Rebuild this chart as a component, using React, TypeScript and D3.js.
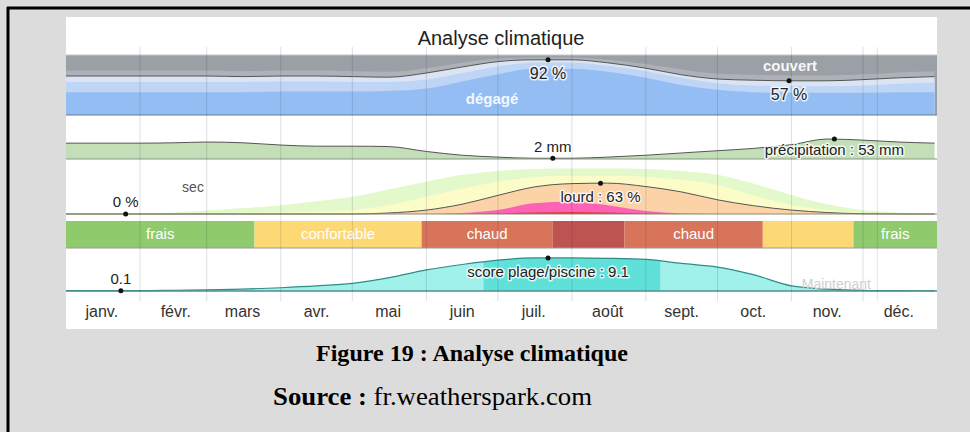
import React from "react";
import * as d3 from "d3";

const W = 970;
const H = 432;

// points bimensuels de l'année
const sampleDates = [
  "2023-01-01", "2023-01-16", "2023-02-01", "2023-02-16", "2023-03-01", "2023-03-16",
  "2023-04-01", "2023-04-16", "2023-05-01", "2023-05-16", "2023-06-01", "2023-06-16",
  "2023-07-01", "2023-07-16", "2023-08-01", "2023-08-16", "2023-09-01", "2023-09-16",
  "2023-10-01", "2023-10-16", "2023-11-01", "2023-11-16", "2023-12-01", "2023-12-16",
  "2023-12-31",
];

const monthLabels = ["janv.", "févr.", "mars", "avr.", "mai", "juin", "juil.", "août", "sept.", "oct.", "nov.", "déc."];

// couverture nuageuse : % cumulés depuis le bas (dégagé -> couvert)
const cloudClear = [38, 38, 38, 38, 38, 38, 39, 39, 39, 40, 44, 56, 68, 77, 77, 72, 62, 50, 42, 38, 37, 37, 37, 38, 38];
const cloudMostlyClear = [55, 55, 55, 55, 55, 55, 56, 56, 55, 55, 59, 70, 81, 87, 87, 82, 73, 62, 53, 49, 48, 48, 49, 52, 54];
const cloudPartly = [65, 65, 65, 65, 65, 64, 65, 65, 64, 63, 70, 80, 89, 92, 92, 87, 78, 67, 60, 58, 57, 57, 59, 62, 64];
const cloudMostlyCloudy = [74, 74, 74, 74, 74, 73, 74, 74, 73, 72, 78, 87, 94, 96, 96, 92, 85, 76, 69, 67, 66, 66, 68, 71, 73];

// précipitations (mm)
const precipMm = [42, 42, 42, 43, 45, 43, 37, 34, 34, 33, 20, 10, 5, 2, 2, 5, 10, 16, 22, 28, 38, 53, 50, 45, 42];

// humidité : % cumulés (misérable -> humide)
const muggyMiserable = [0, 0, 0, 0, 0, 0, 0, 0, 0, 0, 0, 0, 1, 3, 4, 3, 1, 0, 0, 0, 0, 0, 0, 0, 0];
const muggyOppressive = [0, 0, 0, 0, 0, 0, 0, 0, 0, 0, 0, 2, 8, 22, 25, 18, 6, 1, 0, 0, 0, 0, 0, 0, 0];
const muggyHeavy = [0, 0, 0, 0, 0, 0, 0, 0, 0, 2, 8, 20, 38, 55, 62, 63, 56, 45, 29, 17, 8, 3, 0.5, 0, 0];
const muggyHumid = [0, 0, 0, 0.5, 1, 2, 3, 5, 8, 18, 35, 52, 66, 75, 78, 78, 76, 70, 59, 38, 18, 8, 2, 0.5, 0];
const muggyComfortable = [0, 0.5, 1, 3, 7, 12, 18, 26, 35, 50, 66, 80, 88, 92, 93, 93, 92, 88, 80, 62, 39, 20, 8, 3, 1];

// score plage/piscine
const beachScore = [0.1, 0.1, 0.1, 0.2, 0.3, 0.5, 0.9, 1.4, 2.1, 3.6, 5.8, 7.3, 8.5, 9.1, 9.1, 9.0, 8.7, 7.6, 6.6, 4.5, 1.4, 0.5, 0.15, 0.1, 0.05];
const beachBestStart = "2023-06-25";
const beachBestEnd = "2023-09-07";

// bande de température
const tempBandStart = ["2023-01-01", "2023-03-21", "2023-05-30", "2023-07-24", "2023-08-23", "2023-10-20", "2023-11-27"];
const tempBandKind = ["frais", "confortable", "chaud", "tres_chaud", "chaud", "confortable", "frais"];
const tempBandLabel = ["frais", "confortable", "chaud", "", "chaud", "", "frais"];

// repères
const cloudMarks = [{ date: "2023-07-22", value: 92, label: "92 %" }, { date: "2023-10-31", value: 57, label: "57 %" }];
const precipMarks = [{ date: "2023-07-24", value: 2, label: "2 mm" }, { date: "2023-11-19", value: 53, label: "précipitation : 53 mm" }];
const muggyMarks = [{ date: "2023-01-26", value: 0, label: "0 %" }, { date: "2023-08-13", value: 63, label: "lourd : 63 %" }];
const beachMarks = [{ date: "2023-01-24", value: 0.1, label: "0.1" }, { date: "2023-07-22", value: 9.1, label: "score plage/piscine : 9.1" }];
const nowDate = "2023-12-07";

const bandColors: Record<string, string> = {
  frais: "#8fca6c",
  confortable: "#fdd976",
  chaud: "#d8745a",
  tres_chaud: "#bd5452",
};

const parse = d3.timeParse("%Y-%m-%d");
const dates = sampleDates.map((s) => parse(s) as Date);

const SANS = "'Liberation Sans', Arial, sans-serif";
const SERIF = "'Liberation Serif', 'Times New Roman', serif";

export default function App() {
  const x = d3.scaleTime().domain([parse("2023-01-01") as Date, parse("2024-01-01") as Date]).range([66, 937]);

  const cloudY = d3.scaleLinear().domain([0, 100]).range([115, 55]);
  const precipY = d3.scaleLinear().domain([0, 110]).range([159, 117.5]);
  const muggyY = d3.scaleLinear().domain([0, 100]).range([214, 165]);
  const beachY = d3.scaleLinear().domain([0, 10]).range([291, 254.7]);

  const area = (y: d3.ScaleLinear<number, number>) =>
    d3
      .area<number>()
      .x((d, i) => x(dates[i]))
      .y0(y(0))
      .y1((d) => y(d))
      .curve(d3.curveMonotoneX);
  const line = (y: d3.ScaleLinear<number, number>) =>
    d3
      .line<number>()
      .x((d, i) => x(dates[i]))
      .y((d) => y(d))
      .curve(d3.curveMonotoneX);

  const months = d3.timeMonth.range(parse("2023-01-01") as Date, parse("2024-01-01") as Date);
  const halo = { paintOrder: "stroke" as const, stroke: "rgba(255,255,255,0.8)", strokeWidth: 3, strokeLinejoin: "round" as const };

  const dot = (px: number, py: number) => <circle cx={px} cy={py} r={2.5} fill="#111" />;

  return (
    <svg width={W} height={H} style={{ position: "absolute", left: 0, top: 0 }} fontFamily={SANS}>
      <rect width={W} height={H} fill="#dcdcdc" />
      <line x1={7} x2={W} y1={8} y2={8} stroke="#000" strokeWidth={3} />
      <line x1={8} x2={8} y1={7} y2={H} stroke="#000" strokeWidth={3} />

      <rect x={66} y={17} width={871} height={312} fill="#fff" />

      <text x={501} y={45} textAnchor="middle" fontSize={20} fill="#222">
        Analyse climatique
      </text>

      {/* nuages */}
      <rect x={66} y={55} width={871} height={60} fill="#9b9fa6" />
      <line x1={66} x2={937} y1={55} y2={55} stroke="#c4c6ca" />
      <path d={area(cloudY)(cloudMostlyCloudy) || ""} fill="#aeb2b8" />
      <path d={area(cloudY)(cloudPartly) || ""} fill="#dae4f3" />
      <path d={area(cloudY)(cloudMostlyClear) || ""} fill="#bfd5f5" />
      <path d={area(cloudY)(cloudClear) || ""} fill="#94bef3" />
      <path d={line(cloudY)(cloudPartly) || ""} fill="none" stroke="#555" strokeWidth={1} />
      <line x1={66} x2={937} y1={115} y2={115} stroke="#6b7a90" />

      {/* précipitations */}
      <path d={area(precipY)(precipMm) || ""} fill="#c3dfb7" />
      <path d={line(precipY)(precipMm) || ""} fill="none" stroke="#555" strokeWidth={1} />
      <line x1={66} x2={937} y1={159} y2={159} stroke="#8a9488" />

      {/* humidité */}
      <path d={area(muggyY)(muggyComfortable) || ""} fill="#e3f9cb" />
      <path d={area(muggyY)(muggyHumid) || ""} fill="#fcfcc9" />
      <path d={area(muggyY)(muggyHeavy) || ""} fill="#fbd3a6" />
      <path d={area(muggyY)(muggyOppressive) || ""} fill="#fc63b6" />
      <path d={area(muggyY)(muggyMiserable) || ""} fill="#e2373f" />
      <path d={line(muggyY)(muggyHeavy) || ""} fill="none" stroke="#555" strokeWidth={1} />
      <line x1={66} x2={937} y1={214} y2={214} stroke="#8c8c6c" />

      {/* température */}
      {tempBandStart.map((s, i) => {
        const x0 = x(parse(s) as Date);
        const x1 = i < tempBandStart.length - 1 ? x(parse(tempBandStart[i + 1]) as Date) : 937;
        return (
          <g key={"b" + i}>
            <rect x={x0} y={221} width={x1 - x0} height={27} fill={bandColors[tempBandKind[i]]} />
            {tempBandLabel[i] && (
              <text x={(x0 + x1) / 2} y={239} textAnchor="middle" fontSize={15} fill="#fff">
                {tempBandLabel[i]}
              </text>
            )}
          </g>
        );
      })}
      <line x1={66} x2={937} y1={248} y2={248} stroke="#9a9a9a" />

      {/* plage */}
      <defs>
        <clipPath id="best">
          <rect x={x(parse(beachBestStart) as Date)} y={240} width={x(parse(beachBestEnd) as Date) - x(parse(beachBestStart) as Date)} height={60} />
        </clipPath>
      </defs>
      <path d={area(beachY)(beachScore) || ""} fill="#a0f1ea" />
      <path d={area(beachY)(beachScore) || ""} fill="#5fe0d8" clipPath="url(#best)" />
      <path d={line(beachY)(beachScore) || ""} fill="none" stroke="#2f8c88" strokeWidth={1.2} />
      <line x1={66} x2={937} y1={291} y2={291} stroke="#4f8f8f" strokeWidth={1.5} />

      {/* grille des mois */}
      {months.slice(1).map((m, i) => (
        <line key={"g" + i} x1={x(m)} x2={x(m)} y1={47} y2={301} stroke="rgba(30,40,60,0.15)" />
      ))}
      <line x1={x(parse(nowDate) as Date)} x2={x(parse(nowDate) as Date)} y1={47} y2={301} stroke="rgba(30,40,60,0.13)" />
      <text x={871} y={289} textAnchor="end" fontSize={14} fill="#cfcfcf">
        Maintenant
      </text>

      {/* libellés */}
      <text x={492} y={104} textAnchor="middle" fontSize={15} fontWeight="bold" fill="#fff" fillOpacity={0.92}>dégagé</text>
      <text x={790} y={71} textAnchor="middle" fontSize={15} fontWeight="bold" fill="#fff" fillOpacity={0.92}>couvert</text>
      <text x={193} y={192} textAnchor="middle" fontSize={14} fill="#555">sec</text>

      {cloudMarks.map((m, i) => {
        const px = x(parse(m.date) as Date);
        const py = cloudY(m.value);
        return (
          <g key={"cm" + i}>
            {dot(px, py)}
            <text x={px} y={py + 19} textAnchor="middle" fontSize={16} fill="#222" style={halo}>{m.label}</text>
          </g>
        );
      })}
      {precipMarks.map((m, i) => {
        const px = x(parse(m.date) as Date);
        const py = precipY(m.value);
        return (
          <g key={"pm" + i}>
            {dot(px, py)}
            <text x={px} y={i === 0 ? py - 6 : py + 16} textAnchor="middle" fontSize={15} fill="#222" style={halo}>{m.label}</text>
          </g>
        );
      })}
      {muggyMarks.map((m, i) => {
        const px = x(parse(m.date) as Date);
        const py = muggyY(m.value);
        return (
          <g key={"mm" + i}>
            {dot(px, py)}
            <text x={px} y={i === 0 ? py - 7 : py + 19} textAnchor="middle" fontSize={15} fill="#222" style={halo}>{m.label}</text>
          </g>
        );
      })}
      {beachMarks.map((m, i) => {
        const px = x(parse(m.date) as Date);
        const py = beachY(m.value);
        return (
          <g key={"bm" + i}>
            {dot(px, py)}
            <text x={px} y={i === 0 ? py - 7 : py + 19} textAnchor="middle" fontSize={15} fill="#222" style={halo}>{m.label}</text>
          </g>
        );
      })}

      {/* axe des mois */}
      {months.map((m, i) => {
        const mid = new Date(m.getFullYear(), m.getMonth(), 16);
        return (
          <text key={"ml" + i} x={x(mid)} y={317} textAnchor="middle" fontSize={16} fill="#333">
            {monthLabels[i]}
          </text>
        );
      })}

      {/* légende de la figure */}
      <text x={316} y={361} textLength={312} lengthAdjust="spacingAndGlyphs" fontFamily={SERIF} fontWeight="bold" fontSize={23} fill="#000">
        Figure 19 : Analyse climatique
      </text>
      <text x={273} y={405} textLength={319} lengthAdjust="spacingAndGlyphs" fontFamily={SERIF} fontSize={25} fill="#000">
        <tspan fontWeight="bold">Source :</tspan> fr.weatherspark.com
      </text>
    </svg>
  );
}
